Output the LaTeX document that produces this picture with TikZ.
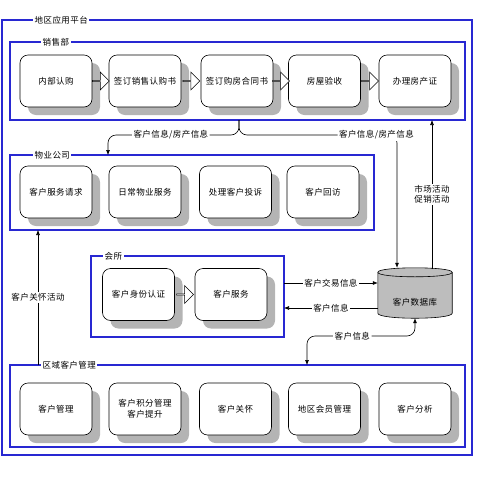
\documentclass[tikz,border=0pt]{standalone}
\usepackage{fontspec}
\setmainfont{Noto Sans CJK SC}[LetterSpace=5]
\usetikzlibrary{arrows.meta,shapes.arrows,shadows,calc}
\definecolor{framecol}{HTML}{2828D2}
\definecolor{shadecol}{HTML}{B4B4B4}
\definecolor{dbcol}{HTML}{BDBDBD}
\tikzset{
  frame/.style={draw=framecol, line width=1.6pt, inner sep=0pt, outer sep=0pt},
  frametitle/.style={anchor=west, fill=white, inner sep=1.5pt},
  stepbox/.style={draw, line width=0.6pt, fill=white, rounded corners=8pt,
    minimum width=72pt, minimum height=52pt, align=center, inner sep=2pt,
    drop shadow={shadow xshift=8pt, shadow yshift=-8pt, opacity=1, fill=shadecol}},
  flowarrow/.style={single arrow, draw, line width=0.6pt, fill=white,
    minimum width=18pt, minimum height=17pt, single arrow head extend=4pt, inner sep=0pt},
  conn/.style={draw, line width=0.6pt, >={Latex[length=5pt,width=4pt]}},
  lbl/.style={fill=white, inner sep=1.5pt, align=center}
}
\begin{document}
\begin{tikzpicture}[x=1pt, y=-1pt, font=\fontsize{8.5}{10.5}\selectfont]
\useasboundingbox (0,0) rectangle (480,480);
% frames
\node[frame, minimum width=470pt, minimum height=435pt] (platform) at (237,237.5) {};
\node[frame, minimum width=455pt, minimum height=78pt] (sales) at (237.5,81) {};
\node[frame, minimum width=364pt, minimum height=75pt] (prop) at (192,192.5) {};
\node[frame, minimum width=193pt, minimum height=81pt] (club) at (187.5,296.5) {};
\node[frame, minimum width=455pt, minimum height=82pt] (region) at (237.5,406) {};
\node[frametitle] (platformt) at ($(platform.north west)+(31,0)$) {地区应用平台};
\node[frametitle] (salest) at ($(sales.north west)+(31,0)$) {销售部};
\node[frametitle] (propt) at ($(prop.north west)+(23,0)$) {物业公司};
\node[frametitle] (clubt) at ($(club.north west)+(12,0)$) {会所};
\node[frametitle] (regiont) at ($(region.north west)+(31,0)$) {区域客户管理};
% sales
\node[stepbox] (s1) at (56,81) {内部认购};
\node[stepbox] (s2) at (145,81) {签订销售认购书};
\node[stepbox] (s3) at (237,81) {签订购房合同书};
\node[stepbox] (s4) at (324.5,81) {房屋验收};
\node[stepbox] (s5) at (415,81) {办理房产证};
\node[flowarrow] (a1) at ($(s1.east)!0.5!(s2.west)$) {};
\node[flowarrow] (a2) at ($(s2.east)!0.5!(s3.west)$) {};
\node[flowarrow] (a3) at ($(s3.east)!0.5!(s4.west)$) {};
\node[flowarrow] (a4) at ($(s4.east)!0.5!(s5.west)$) {};
% property
\node[stepbox] (p1) at (56,192) {客户服务请求};
\node[stepbox] (p2) at (145,192) {日常物业服务};
\node[stepbox] (p3) at (235.5,192) {处理客户投诉};
\node[stepbox] (p4) at (323,192) {客户回访};
% club
\node[stepbox] (c1) at (138.5,294.5) {客户身份认证};
\node[stepbox] (c2) at (231,294.5) {客户服务};
\node[flowarrow] (a5) at ($(c1.east)!0.5!(c2.west)$) {};
% region
\node[stepbox] (r1) at (56,409) {客户管理};
\node[stepbox] (r2) at (145,409) {客户积分管理\\客户提升};
\node[stepbox] (r3) at (235.5,409) {客户关怀};
\node[stepbox] (r4) at (324.5,409) {地区会员管理};
\node[stepbox] (r5) at (415,409) {客户分析};
% database
\node[inner sep=0pt, minimum width=74pt, minimum height=50pt] (db) at (415,293) {};
\filldraw[fill=dbcol, line width=0.6pt]
  ($(db.north west)+(0,4.5)$) .. controls ($(db.north west)+(0,-1.5)$) and ($(db.north east)+(0,-1.5)$) .. ($(db.north east)+(0,4.5)$)
  -- ($(db.south east)+(0,-5)$) .. controls ($(db.south east)+(0,1.7)$) and ($(db.south west)+(0,1.7)$) .. ($(db.south west)+(0,-5)$)
  -- cycle;
\draw[line width=0.6pt] ($(db.north west)+(0,4.5)$) .. controls ($(db.north west)+(0,10.5)$) and ($(db.north east)+(0,10.5)$) .. ($(db.north east)+(0,4.5)$);
\node (dbtext) at ($(db.center)+(0,9)$) {客户数据库};
% connectors
\coordinate (split) at ($(sales.south)+(1.5,0)$);
\coordinate (lcorner) at (108,135);
\coordinate (rcorner) at (397,135);
\coordinate (mkt) at ($(db.north)+(17,1)$);
\coordinate (care) at (38,300);
\coordinate (trade) at (331,283);
\coordinate (info) at (331,308);
\coordinate (bcorner) at (307,336);
\draw[conn,->,rounded corners=8pt] (split) |- node[lbl,pos=0.76] {客户信息/房产信息} (lcorner) -- (lcorner |- prop.north);
\draw[conn,->,rounded corners=8pt] (split) |- node[lbl,pos=0.935] {客户信息/房产信息} (rcorner) -- (rcorner |- db.north);
\draw[conn,->] (mkt) -- (mkt |- sales.south) node[lbl,midway] {市场活动\\促销活动};
\draw[conn,->] (region.north -| care) -- (prop.south -| care) node[lbl,midway] {客户关怀活动};
\draw[conn,->] (club.east |- trade) -- (db.west |- trade) node[lbl,midway] {客户交易信息};
\draw[conn,->] (db.west |- info) -- (club.east |- info) node[lbl,midway] {客户信息};
\draw[conn,<->,rounded corners=8pt] (db.south) |- node[lbl,pos=0.79] {客户信息} (bcorner) -- (bcorner |- region.north);
\end{tikzpicture}
\end{document}
